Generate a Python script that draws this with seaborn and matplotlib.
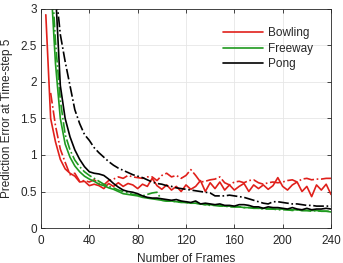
import numpy as np
import pandas as pd
import matplotlib
matplotlib.use("Agg")
import matplotlib.pyplot as plt
import seaborn as sns

frames = list(range(4, 241, 4))

bowling_solid = [2.92, 1.50, 1.18, 0.94, 0.81, 0.75, 0.71, 0.63, 0.64, 0.58,
                 0.60, 0.58, 0.54, 0.61, 0.57, 0.62, 0.57, 0.61, 0.59, 0.54,
                 0.60, 0.57, 0.68, 0.58, 0.53, 0.59, 0.52, 0.57, 0.50, 0.59,
                 0.53, 0.57, 0.65, 0.50, 0.62, 0.54, 0.63, 0.52, 0.59, 0.52,
                 0.57, 0.61, 0.50, 0.59, 0.54, 0.59, 0.53, 0.58, 0.69, 0.57,
                 0.52, 0.59, 0.63, 0.50, 0.57, 0.43, 0.59, 0.52, 0.60, 0.46]
bowling_dash = [np.nan, 1.85, 1.40, 1.08, 0.90, 0.73, 0.75, 0.64, 0.65, 0.63,
                0.66, 0.61, 0.59, 0.65, 0.67, 0.70, 0.68, 0.72, 0.70, 0.69,
                0.68, 0.70, 0.70, 0.65, 0.72, 0.75, 0.70, 0.72, 0.68, 0.72,
                0.80, 0.72, 0.63, 0.64, 0.66, 0.67, 0.70, 0.62, 0.59, 0.63,
                0.64, 0.62, 0.65, 0.66, 0.62, 0.60, 0.62, 0.63, 0.62, 0.63,
                0.65, 0.66, 0.63, 0.67, 0.68, 0.66, 0.67, 0.67, 0.68, 0.68]
freeway_solid = [6.0, 3.4, 2.25, 1.50, 1.15, 0.97, 0.85, 0.77, 0.71, 0.67,
                 0.64, 0.60, 0.58, 0.55, 0.53, 0.50, 0.47, 0.46, 0.45, 0.44,
                 0.42, 0.41, 0.40, 0.39, 0.38, 0.37, 0.37, 0.36, 0.36, 0.35,
                 0.34, 0.34, 0.33, 0.32, 0.32, 0.31, 0.31, 0.30, 0.30, 0.29,
                 0.29, 0.28, 0.28, 0.28, 0.27, 0.27, 0.27, 0.26, 0.26, 0.26,
                 0.25, 0.25, 0.25, 0.24, 0.24, 0.24, 0.24, 0.23, 0.23, 0.22]
freeway_dash = [7.0, 3.7, 2.55, 1.75, 1.28, 1.07, 0.93, 0.84, 0.77, 0.72,
                0.68, 0.64, 0.60, 0.57, 0.55, 0.52, 0.50, 0.48, 0.46, 0.45,
                0.44, 0.46, 0.48, 0.49, 0.38, 0.37, 0.37, 0.36, 0.35, 0.35,
                0.34, 0.34, 0.33, 0.32, 0.31, 0.31, 0.30, 0.30, 0.29, 0.29,
                0.29, 0.28, 0.28, 0.27, 0.27, 0.26, 0.26, 0.26, 0.25, 0.25,
                0.25, 0.24, 0.25, 0.24, 0.24, 0.23, 0.24, 0.23, 0.23, 0.23]
pong_solid = [8.0, 5.0, 3.25, 1.95, 1.50, 1.25, 1.07, 0.94, 0.84, 0.77,
              0.75, 0.74, 0.72, 0.67, 0.61, 0.56, 0.52, 0.50, 0.49, 0.47,
              0.44, 0.42, 0.41, 0.41, 0.40, 0.39, 0.38, 0.39, 0.37, 0.36,
              0.35, 0.37, 0.33, 0.34, 0.33, 0.32, 0.33, 0.31, 0.31, 0.30,
              0.32, 0.32, 0.31, 0.29, 0.29, 0.27, 0.29, 0.28, 0.28, 0.27,
              0.26, 0.28, 0.26, 0.25, 0.27, 0.25, 0.26, 0.26, 0.27, 0.26]
pong_dash = [10.0, 5.5, 3.3, 2.65, 2.28, 1.95, 1.62, 1.43, 1.28, 1.20,
             1.10, 1.03, 0.97, 0.91, 0.86, 0.82, 0.79, 0.76, 0.73, 0.71,
             0.69, 0.66, 0.63, 0.61, 0.60, 0.58, 0.57, 0.55, 0.54, 0.53,
             0.52, 0.51, 0.50, 0.49, 0.48, 0.44, 0.44, 0.44, 0.45, 0.44,
             0.43, 0.42, 0.40, 0.38, 0.36, 0.34, 0.33, 0.36, 0.36, 0.35,
             0.34, 0.33, 0.33, 0.32, 0.31, 0.31, 0.30, 0.30, 0.30, 0.30]

games = ["Bowling", "Freeway", "Pong"]
colors = {"Bowling": "#e0201b", "Freeway": "#1f9a1f", "Pong": "#000000"}
x_ticks = [0, 40, 80, 120, 160, 200, 240]
y_ticks = [0, 0.5, 1, 1.5, 2, 2.5, 3]
y_tick_labels = ["0", "0.5", "1", "1.5", "2", "2.5", "3"]

sns.set_theme(style="whitegrid")
plt.rcParams['font.family'] = ['Liberation Sans', 'DejaVu Sans']

fig = plt.figure(figsize=(3.43, 2.63), dpi=100)
ax = fig.add_axes([0.1195, 0.133, 0.8455, 0.833])

series = [
    ("Bowling", bowling_solid, "-"), ("Bowling", bowling_dash, "-."),
    ("Freeway", freeway_solid, "-"), ("Freeway", freeway_dash, "-."),
    ("Pong", pong_solid, "-"), ("Pong", pong_dash, "-."),
]
handles = {}
for game, vals, ls in series:
    df = pd.DataFrame({"frames": frames, "err": vals})
    sns.lineplot(data=df, x="frames", y="err", ax=ax, color=colors[game],
                 linestyle=ls, linewidth=1.2, legend=False)
    if ls == "-":
        handles[game] = ax.lines[-1]

ax.set_xlim(0, 240)
ax.set_ylim(0, 3)
ax.set_xticks(x_ticks)
ax.set_yticks(y_ticks)
ax.set_yticklabels(y_tick_labels)
ax.set_xlabel("Number of Frames", fontsize=8.5, color="#262626", labelpad=4)
ax.set_ylabel("Prediction Error at Time-step 5", fontsize=8.5, color="#262626", labelpad=5)
ax.tick_params(axis="both", labelsize=8.5, colors="#262626", direction="in",
               length=3, width=0.6, top=True, right=True,
               bottom=True, left=True)
ax.tick_params(axis="x", pad=5)
ax.tick_params(axis="y", pad=3)
ax.grid(True, color="#e6e6e6", linewidth=0.6)
for s in ax.spines.values():
    s.set_visible(True)
    s.set_color("#262626")
    s.set_linewidth(0.6)

leg = ax.legend([handles[g] for g in games], games, loc="upper right",
                bbox_to_anchor=(0.975, 0.965), frameon=False, fontsize=8.5,
                handlelength=3.4, handletextpad=0.4, labelspacing=0.3)
for t in leg.get_texts():
    t.set_color("#262626")

fig.savefig("out.png", dpi=100)
